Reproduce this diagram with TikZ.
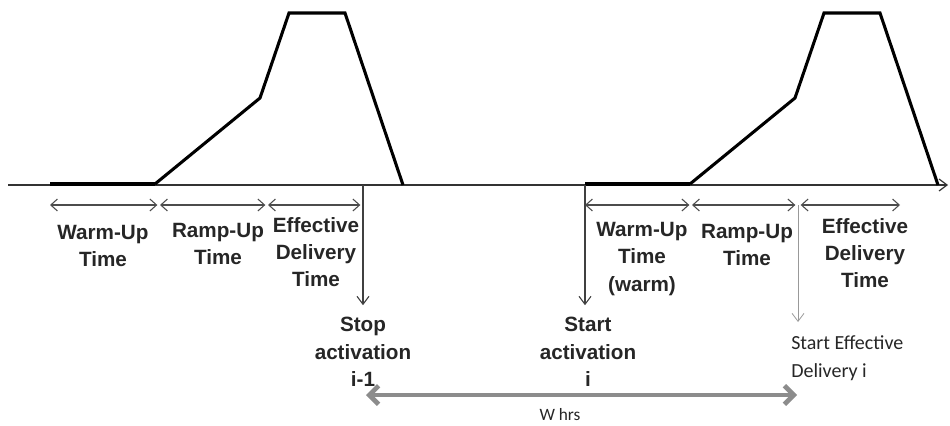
\documentclass[tikz,border=0pt]{standalone}
\usepackage{fontspec}
\setmainfont{Liberation Sans}
\newfontfamily\calibri{Carlito}
\usetikzlibrary{arrows.meta,positioning}

\begin{document}
\begin{tikzpicture}[x=0.75pt,y=-0.75pt,
    span/.style={{Straight Barb[length=5pt,width=9pt]}-{Straight Barb[length=5pt,width=9pt]}, draw=black!70, line width=0.8pt},
    lbl/.style={font=\fontsize{15.5}{20.5}\selectfont\bfseries, text=black!85, align=center, inner sep=0pt},
    drop/.style={-{Straight Barb[length=6pt,width=9pt]}, draw=black!75, line width=0.8pt},
    profile/.style={line width=2.3pt, line join=miter}]
    \useasboundingbox (0,0) rectangle (950,425);

    % Time axis
    \coordinate (t0) at (8,185);
    \coordinate (t1) at (948,185);
    \draw[-{Straight Barb[length=6pt,width=9pt]}, black!80, line width=0.9pt] (t0) -- (t1);

    % Activation profiles i-1 and i
    \foreach \n/\dx in {a/0, b/535} {
        \draw[line width=3pt] (50+\dx,184) -- (155+\dx,184);
        \draw[profile] (155+\dx,184) -- (260+\dx,98) -- (289+\dx,13) -- (345+\dx,13) -- (403+\dx,185);
    }

    % Phase spans
    \foreach \n/\x in {1/50, 2/160, 3/268, 4/363, 5/585, 6/692, 7/798, 8/900} {
        \coordinate (p\n) at (\x,205);
    }
    \draw[span] (p1) -- ([xshift=-2pt]p2);
    \draw[span] (p2) -- ([xshift=-2pt]p3);
    \draw[span] (p3) -- ([xshift=-2pt]p4);
    \draw[span] (p5) -- ([xshift=-2pt]p6);
    \draw[span] (p6) -- ([xshift=-2pt]p7);
    \draw[span] ([xshift=2pt]p7) -- (p8);

    % Phase labels
    \node[lbl] (warmA) at (103,246) {Warm-Up\\Time};
    \node[lbl] (rampA) at (218,244) {Ramp-Up\\Time};
    \node[lbl] (effA) at (316,252) {Effective\\Delivery\\Time};
    \node[lbl] (warmB) at (642,259) {Warm-Up\\Time\\(warm)};
    \node[lbl] (rampB) at (747,245) {Ramp-Up\\Time};
    \node[lbl] (effB) at (865,253) {Effective\\Delivery\\Time};

    % Events
    \node[lbl] (stop) at (363,352) {Stop\\activation\\i-1};
    \node[lbl] (start) at (588,352) {Start\\activation\\i};
    \node[font=\calibri\fontsize{15}{21}\selectfont, text=black!85, align=left, inner sep=0pt, anchor=west] (deliv) at (791,358) {Start Effective\\Delivery i};
    \coordinate (s1) at (363,185);
    \coordinate (s2) at (585,185);
    \coordinate (s3) at (798,205);
    \draw[drop] (s1) -- ([yshift=9pt]stop.north -| s1);
    \draw[drop] (s2) -- ([yshift=9pt]start.north -| s2);
    \draw[drop, draw=black!40, line width=0.6pt] (s3) -- (798,322);

    % Period between activations
    \coordinate (w1) at (366,395);
    \coordinate (w2) at (797,395);
    \draw[{Straight Barb[length=7pt,width=14pt]}-{Straight Barb[length=7pt,width=14pt]}, draw=black!45, line width=3.5pt] (w1) -- (w2);
    \node[font=\calibri\fontsize{13}{15}\selectfont, text=black!85, inner sep=0pt] (whrs) at (560,415) {W hrs};
\end{tikzpicture}
\end{document}
